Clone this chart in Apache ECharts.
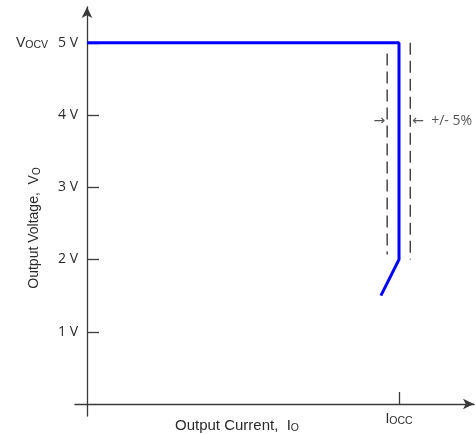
<!DOCTYPE html>
<html><head><meta charset="utf-8">
<script src="https://cdn.jsdelivr.net/npm/echarts@6/dist/echarts.min.js"></script>
<style>html,body{margin:0;padding:0;background:#fff}#c{width:476px;height:434px}</style>
</head><body><div id="c"></div>
<script>
// I-V characteristic (x: current relative to I_OCC, y: volts)
const ivCurve = [[0, 5], [1, 5], [1, 2], [0.942, 1.5]];
const tolLow = [[0.962, 4.85], [0.962, 2.07]];
const tolHigh = [[1.036, 5.0], [1.036, 2.0]];
const yTickValues = [1, 2, 3, 4, 5];
const yTickLabels = ['1 V', '2 V', '3 V', '4 V', '5 V'];
const xTickValues = [1];
const xTickLabels = ['I_OCC'];
const arrowLeft = [[0.962, 3.92]];
const arrowRight = [[1.036, 3.92]];

const chart = echarts.init(document.getElementById('c'), null, {renderer: 'canvas'});
const axisColor = '#3a3a3a';
const textColor = '#2a2a2a';
const sf = '"Open Sans", "DejaVu Sans", sans-serif';
const af = '"Liberation Sans", Arial, sans-serif';

chart.setOption({
  animation: false,
  grid: {left: 75, right: 2, top: 7, bottom: 18, containLabel: false, outerBoundsMode: 'none'},
  xAxis: {
    type: 'value', min: -12/312, max: 387/312,
    splitLine: {show: false},
    axisLine: {onZero: true, symbol: ['none', 'arrow'], symbolSize: [8, 11], lineStyle: {color: axisColor, width: 1.3}},
    axisTick: {show: true, inside: true, length: 12, customValues: xTickValues, lineStyle: {color: axisColor, width: 1.3}},
    axisLabel: {
      show: true, customValues: xTickValues, margin: -5,
      formatter: function (v) { return '{m|I}{s|OCC}'; },
      rich: {
        m: {fontFamily: af, fontSize: 14, color: textColor},
        s: {fontFamily: af, fontSize: 10.5, color: textColor, padding: [5, 0, 0, 0]}
      }
    }
  },
  yAxis: {
    type: 'value', min: -12/72.25, max: 397/72.25,
    splitLine: {show: false},
    axisLine: {onZero: true, symbol: ['none', 'arrow'], symbolSize: [8, 11], lineStyle: {color: axisColor, width: 1.3}},
    axisTick: {show: true, inside: true, length: 12, customValues: yTickValues, lineStyle: {color: axisColor, width: 1.3}},
    axisLabel: {
      show: true, customValues: yTickValues, margin: -3,
      formatter: function (v) {
        const i = yTickValues.indexOf(Math.round(v));
        const t = yTickLabels[i];
        if (Math.round(v) === 5) return '{v|V}{s|OCV}{g|}{t|' + t + '}';
        return '{t|' + t + '}';
      },
      rich: {
        t: {fontFamily: sf, fontSize: 14, color: textColor},
        v: {fontFamily: af, fontSize: 14, color: textColor},
        s: {fontFamily: af, fontSize: 10.5, color: textColor, padding: [5, 0, 0, 0]},
        g: {width: 10}
      }
    }
  },
  graphic: [
    {type: 'text', x: 237, y: 426, style: {
      text: '{m|Output Current,  I}{s|O}', align: 'center', verticalAlign: 'middle',
      rich: {
        m: {fontFamily: af, fontSize: 15, fill: textColor},
        s: {fontFamily: af, fontSize: 10.5, fill: textColor, padding: [5, 0, 0, 0]}
      }}},
    {type: 'text', x: 34, y: 228, rotation: Math.PI / 2, style: {
      text: '{m|Output Voltage,  V}{s|O}', align: 'center', verticalAlign: 'middle',
      rich: {
        m: {fontFamily: af, fontSize: 14, fill: textColor},
        s: {fontFamily: af, fontSize: 10, fill: textColor, padding: [6, 0, 0, 0]}
      }}}
  ],
  series: [
    {type: 'line', data: ivCurve, symbol: 'none', lineStyle: {color: '#0000ff', width: 3}, z: 5},
    {type: 'line', data: tolLow, symbol: 'none', lineStyle: {color: '#1a1a1a', width: 1.2, type: [12, 6]}},
    {type: 'line', data: tolHigh, symbol: 'none', lineStyle: {color: '#1a1a1a', width: 1.2, type: [12, 6]}},
    {type: 'scatter', data: arrowLeft, symbolSize: 0, silent: true,
      label: {show: true, position: 'left', distance: 2, formatter: '→', fontFamily: sf, fontSize: 14, color: textColor}},
    {type: 'scatter', data: arrowRight, symbolSize: 0, silent: true,
      label: {show: true, position: 'right', distance: 2, formatter: '←  +/- 5%', fontFamily: sf, fontSize: 14, color: textColor}}
  ]
});
</script></body></html>
